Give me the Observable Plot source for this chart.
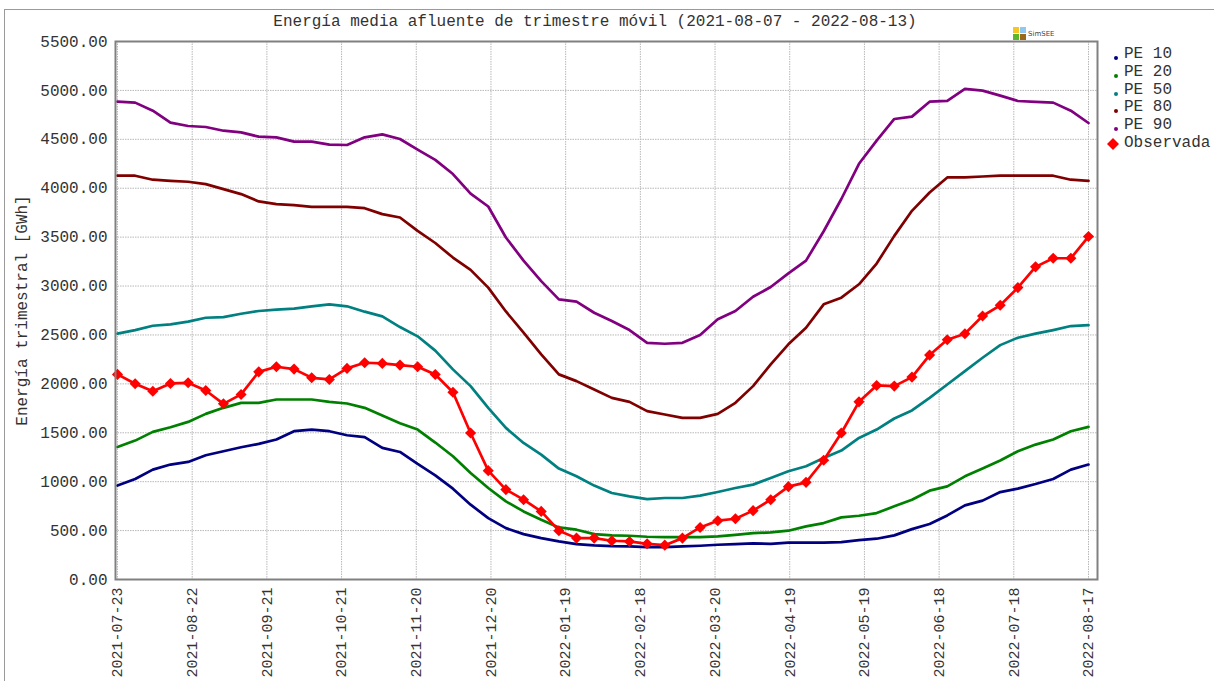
<!DOCTYPE html>
<html>
<head>
<meta charset="utf-8">
<script src="https://cdn.jsdelivr.net/npm/d3@7"></script>
<script src="https://cdn.jsdelivr.net/npm/@observablehq/plot@0.6"></script>
<style>
  html, body { margin: 0; padding: 0; background: #fff; }
  #wrap { position: relative; width: 1214px; height: 681px; overflow: hidden; font-family: "Liberation Mono", monospace; color: #333; }
  #wrap svg { position: absolute; left: 0; top: 0; }
  #outer { position: absolute; left: 4px; top: 9px; width: 1230px; height: 700px; border: 1px solid #9a9a9a; box-sizing: border-box; }
  #title { position: absolute; top: 13px; left: 0; width: 1190px; text-align: center; font-size: 16px; white-space: pre; }
  .leg { position: absolute; font-size: 16px; white-space: pre; line-height: 18px; }
  .ldot { position: absolute; width: 4px; height: 4px; border-radius: 50%; }
  #logo { position: absolute; left: 1013px; top: 27px; }
  .sq { position: absolute; width: 6px; height: 6px; }
  #logotext { position: absolute; left: 1028px; top: 30px; font-size: 7px; font-family: "DejaVu Sans", sans-serif; color: #444; }
</style>
</head>
<body>
<div id="wrap">
  <div id="outer"></div>
  <div id="title">Energía media afluente de trimestre móvil (2021-08-07 - 2022-08-13)</div>
  <div id="logo">
    <div class="sq" style="left:0;top:0;background:#f7c623"></div>
    <div class="sq" style="left:7px;top:0;background:#8fc8f0"></div>
    <div class="sq" style="left:0;top:7px;background:#5cb82a"></div>
    <div class="sq" style="left:7px;top:7px;background:#9a6a1a"></div>
  </div>
  <div id="logotext">SimSEE</div>
</div>
<script>
// X tick labels (dates, evenly spaced along the 56 weekly points)
const tickLabels = ["2021-07-23","2021-08-22","2021-09-21","2021-10-21","2021-11-20","2021-12-20",
  "2022-01-19","2022-02-18","2022-03-20","2022-04-19","2022-05-19","2022-06-18","2022-07-18","2022-08-17"];
const yTicks = [0,500,1000,1500,2000,2500,3000,3500,4000,4500,5000,5500];

const seriesNames = ["PE 10","PE 20","PE 50","PE 80","PE 90","Observada"];
const seriesColors = ["#000080","#008000","#008080","#800000","#800080","#ff0000"];

const pe10 = [960,1028,1123,1175,1202,1270,1311,1352,1386,1431,1516,1533,1516,1475,1455,1345,1304,1181,1065,929,
  765,628,525,464,423,389,362,348,341,338,331,331,338,345,355,362,369,365,376,376,
  376,382,403,417,451,515,567,655,758,806,894,929,976,1028,1123,1175];
const pe20 = [1355,1420,1509,1557,1611,1693,1755,1806,1806,1840,1840,1840,1816,1799,1755,1677,1598,1533,1400,1260,
  1089,935,799,696,611,532,509,464,451,447,437,433,433,433,440,457,474,481,499,543,
  577,635,652,679,748,816,908,952,1055,1134,1216,1311,1379,1431,1516,1560];
const pe50 = [2513,2550,2594,2608,2636,2676,2683,2717,2745,2758,2769,2793,2813,2793,2738,2690,2581,2486,2340,2148,
  1977,1755,1550,1396,1277,1134,1055,960,884,850,822,833,833,857,894,935,970,1038,1106,1157,
  1242,1318,1447,1533,1646,1728,1857,1994,2130,2267,2396,2472,2513,2550,2591,2601];
const pe80 = [4128,4128,4087,4076,4066,4042,3991,3940,3865,3838,3827,3810,3810,3810,3796,3735,3701,3564,3440,3291,
  3165,2984,2740,2523,2301,2097,2028,1943,1857,1816,1721,1687,1652,1652,1693,1806,1977,2199,2404,2574,
  2813,2881,3018,3230,3513,3769,3956,4110,4110,4120,4128,4128,4128,4128,4087,4076];
const pe90 = [4885,4875,4793,4670,4636,4626,4588,4571,4527,4520,4476,4476,4445,4442,4520,4551,4503,4394,4290,4145,
  3945,3813,3496,3260,3050,2864,2840,2727,2642,2550,2420,2410,2420,2499,2660,2745,2890,2990,3130,3260,
  3560,3890,4250,4486,4708,4732,4885,4892,5015,4998,4947,4892,4882,4875,4793,4667];
const observada = [2097,2001,1925,2004,2011,1932,1796,1892,2123,2175,2151,2062,2045,2158,2216,2209,2192,2175,2095,1915,
  1498,1113,919,816,696,499,423,423,396,389,365,351,423,532,601,621,704,816,949,993,
  1219,1498,1816,1984,1977,2069,2294,2451,2513,2694,2803,2984,3196,3284,3284,3506];

const allSeries = [pe10, pe20, pe50, pe80, pe90, observada];
const rows = [];
allSeries.forEach((vals, k) => vals.forEach((v, i) => rows.push({i, v, s: seriesNames[k]})));
const lastIndex = pe10.length - 1;
const xTickPos = tickLabels.map((_, k) => k * lastIndex / (tickLabels.length - 1));

const lines = seriesNames.map((name, k) =>
  Plot.lineY(rows.filter(d => d.s === name), {x: "i", y: "v", stroke: seriesColors[k], strokeWidth: 2.7}));

const chart = Plot.plot({
  width: 1214,
  height: 681,
  marginLeft: 115,
  marginRight: 117,
  marginTop: 41,
  marginBottom: 102,
  insetLeft: 2,
  insetRight: 9,
  style: {fontFamily: "Liberation Mono, monospace", fontSize: "16px", color: "#333", background: "transparent", overflow: "visible"},
  x: {type: "linear", domain: [0, lastIndex]},
  y: {domain: [0, 5500]},
  marks: [
    Plot.gridY(yTicks, {stroke: "#b8b8b8", strokeOpacity: 1, strokeDasharray: "1.5,1"}),
    Plot.gridX(xTickPos, {stroke: "#b8b8b8", strokeOpacity: 1, strokeDasharray: "1.5,1"}),
    Plot.axisY({ticks: yTicks, tickFormat: d => d.toFixed(2), tickSize: 0, tickPadding: 8, fontSize: 16,
      label: "Energía trimestral [GWh]", labelAnchor: "center", labelArrow: "none", labelOffset: 100}),
    Plot.axisX({ticks: xTickPos, tickFormat: (d, i) => tickLabels[i], tickRotate: -90, tickSize: 0, tickPadding: 8, fontSize: 15, label: null}),
    ...lines,
    Plot.dot(rows.filter(d => d.s === "Observada"), {x: "i", y: "v", symbol: "diamond2", fill: "#ff0000", r: 5}),
    Plot.frame({stroke: "#808080", strokeWidth: 2})
  ]
});
const wrap = document.getElementById("wrap");
wrap.insertBefore(chart, document.getElementById("title"));

// Legend
const legY = [55, 73, 91, 108, 126, 144];
seriesNames.forEach((name, k) => {
  const t = document.createElement("div");
  t.className = "leg";
  t.textContent = name;
  t.style.left = "1124px";
  t.style.top = (legY[k] - 10) + "px";
  wrap.appendChild(t);
  if (name === "Observada") {
    const s = document.createElementNS("http://www.w3.org/2000/svg", "svg");
    s.setAttribute("width", 14); s.setAttribute("height", 14);
    s.style.position = "absolute"; s.style.left = "1106px"; s.style.top = (legY[k] - 7) + "px";
    s.innerHTML = '<path d="M7,1 L13,7 L7,13 L1,7 Z" fill="' + seriesColors[k] + '"/>';
    wrap.appendChild(s);
  } else {
    const d = document.createElement("div");
    d.className = "ldot";
    d.style.background = seriesColors[k];
    d.style.left = "1114px";
    d.style.top = (legY[k] + 1) + "px";
    wrap.appendChild(d);
  }
});
</script>
</body>
</html>
